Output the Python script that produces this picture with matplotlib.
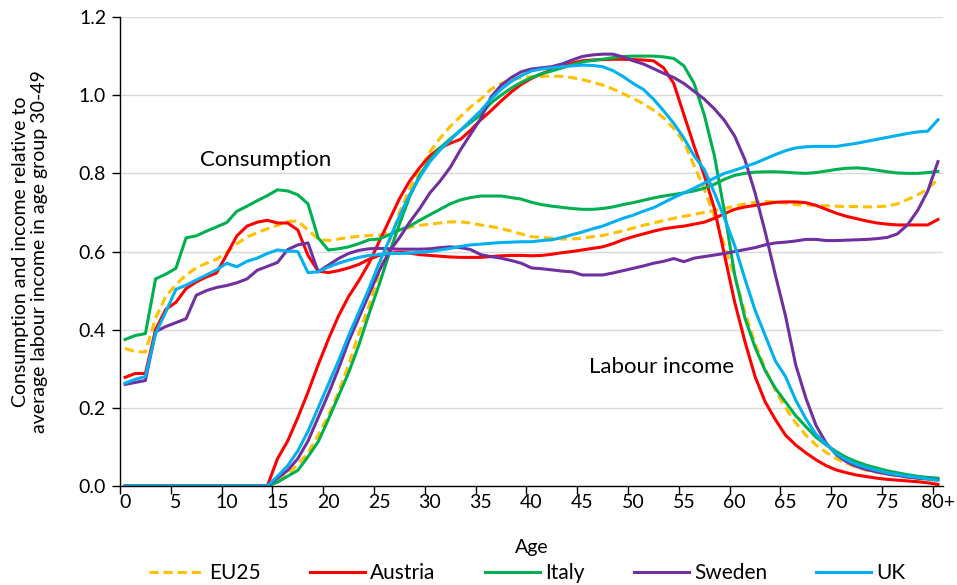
import matplotlib.pyplot as plt
import numpy as np

plt.rcParams['font.family'] = ['Lato', 'DejaVu Sans']

# age 0..80 (80 = 80+)
ages = np.arange(81)
tick_ages = np.arange(0, 81, 5)
tick_labels = [str(a) for a in tick_ages[:-1]] + ['80+']

# consumption profiles
eu25_cons = [0.352, 0.344, 0.343, 0.43, 0.485, 0.515, 0.54, 0.558, 0.57, 0.58,
             0.598, 0.62, 0.637, 0.648, 0.658, 0.667, 0.677, 0.678, 0.655, 0.632,
             0.628, 0.632, 0.636, 0.639, 0.641, 0.642, 0.648, 0.655, 0.662, 0.667,
             0.67, 0.673, 0.676, 0.676, 0.673, 0.668, 0.664, 0.659, 0.652, 0.645,
             0.638, 0.636, 0.634, 0.632, 0.632, 0.634, 0.638, 0.641, 0.647, 0.653,
             0.66, 0.667, 0.673, 0.679, 0.685, 0.69, 0.695, 0.7, 0.705, 0.71,
             0.716, 0.722, 0.726, 0.728, 0.727, 0.724, 0.72, 0.719, 0.718, 0.717,
             0.716, 0.715, 0.715, 0.714, 0.715, 0.716, 0.722, 0.733, 0.745, 0.76,
             0.785]
austria_cons = [0.278, 0.288, 0.288, 0.4, 0.452, 0.47, 0.505, 0.522, 0.535, 0.545,
                0.592, 0.64, 0.665, 0.675, 0.68, 0.673, 0.673, 0.655, 0.59, 0.55,
                0.546, 0.551, 0.558, 0.567, 0.58, 0.59, 0.596, 0.598, 0.596, 0.592,
                0.59, 0.588, 0.586, 0.585, 0.585, 0.585, 0.587, 0.589, 0.59, 0.59,
                0.589, 0.59, 0.593, 0.597, 0.6, 0.604, 0.608, 0.612, 0.62, 0.63,
                0.638, 0.645, 0.652, 0.658, 0.662, 0.665, 0.67, 0.675, 0.685, 0.697,
                0.708, 0.714, 0.718, 0.722, 0.726, 0.727, 0.727, 0.725, 0.718, 0.708,
                0.698, 0.69, 0.684, 0.678, 0.673, 0.67, 0.668, 0.668, 0.668, 0.668,
                0.682]
italy_cons = [0.375, 0.385, 0.39, 0.53, 0.542, 0.557, 0.635, 0.64, 0.652, 0.663,
              0.674, 0.703, 0.716, 0.73, 0.743, 0.758, 0.755, 0.745, 0.722, 0.635,
              0.604, 0.607, 0.612, 0.62, 0.63, 0.632, 0.643, 0.655, 0.665, 0.68,
              0.694, 0.708, 0.722, 0.732, 0.738, 0.742, 0.742, 0.742, 0.738, 0.734,
              0.726, 0.72, 0.716, 0.713, 0.71, 0.708, 0.708, 0.71, 0.714, 0.72,
              0.725, 0.731, 0.737, 0.742, 0.746, 0.75, 0.755, 0.762, 0.772, 0.785,
              0.795, 0.8, 0.803, 0.804, 0.804, 0.803, 0.801, 0.8, 0.802, 0.806,
              0.81, 0.813, 0.814, 0.812, 0.808, 0.804, 0.801, 0.8, 0.8, 0.802,
              0.805]
sweden_cons = [0.26, 0.265, 0.27, 0.395, 0.408, 0.418, 0.428, 0.488, 0.5, 0.508,
               0.513, 0.52, 0.53, 0.552, 0.562, 0.572, 0.605, 0.617, 0.622, 0.548,
               0.565, 0.582, 0.595, 0.603, 0.607, 0.608, 0.607, 0.606, 0.606, 0.606,
               0.607, 0.61, 0.612, 0.61, 0.605, 0.592, 0.587, 0.583, 0.577, 0.57,
               0.558, 0.556, 0.553, 0.55, 0.548, 0.54, 0.54, 0.54, 0.545, 0.551,
               0.557, 0.563, 0.57, 0.575, 0.582, 0.574, 0.583, 0.587, 0.591, 0.595,
               0.6, 0.605, 0.61, 0.617, 0.622, 0.624, 0.627, 0.631, 0.631, 0.628,
               0.628, 0.629, 0.63, 0.631, 0.633, 0.636, 0.645, 0.668, 0.705, 0.755,
               0.83]
uk_cons = [0.263, 0.273, 0.28, 0.39, 0.445, 0.503, 0.514, 0.527, 0.54, 0.553,
           0.57, 0.561, 0.575, 0.583, 0.595, 0.604, 0.601, 0.6, 0.546, 0.548,
           0.56, 0.57, 0.578, 0.585, 0.59, 0.592, 0.595, 0.595, 0.596, 0.598,
           0.6, 0.604, 0.608, 0.613, 0.617, 0.619, 0.621, 0.623, 0.624, 0.625,
           0.625, 0.628, 0.63, 0.636, 0.643, 0.65, 0.658, 0.665, 0.675, 0.685,
           0.693, 0.703, 0.712, 0.725, 0.738, 0.75, 0.762, 0.775, 0.788, 0.8,
           0.808, 0.817, 0.826, 0.837, 0.848, 0.858, 0.865, 0.868, 0.869, 0.869,
           0.869, 0.873, 0.877, 0.882, 0.887, 0.892, 0.897, 0.902, 0.906, 0.908,
           0.937]

# labour income profiles
eu25_lab = [0, 0, 0, 0, 0, 0, 0, 0, 0, 0,
            0, 0, 0, 0, 0, 0.01, 0.03, 0.055, 0.085, 0.13,
            0.18, 0.24, 0.31, 0.39, 0.46, 0.545, 0.625, 0.7, 0.76, 0.81,
            0.855, 0.89, 0.92, 0.945, 0.97, 0.99, 1.015, 1.03, 1.04, 1.045,
            1.047, 1.048, 1.049, 1.048, 1.045, 1.04, 1.033, 1.026, 1.016, 1.004,
            0.992, 0.978, 0.962, 0.942, 0.915, 0.88, 0.82, 0.76, 0.69, 0.615,
            0.535, 0.445, 0.365, 0.3, 0.245, 0.2, 0.162, 0.13, 0.105, 0.086,
            0.07, 0.058, 0.048, 0.04, 0.035, 0.03, 0.026, 0.022, 0.019, 0.016,
            0.014]
austria_lab = [0, 0, 0, 0, 0, 0, 0, 0, 0, 0,
               0, 0, 0, 0, 0, 0.07, 0.115, 0.175, 0.24, 0.31,
               0.375, 0.435, 0.485, 0.525, 0.57, 0.625, 0.68, 0.735, 0.78, 0.815,
               0.845, 0.865, 0.877, 0.887, 0.91, 0.937, 0.96, 0.985, 1.008, 1.028,
               1.043, 1.055, 1.065, 1.073, 1.082, 1.088, 1.09, 1.091, 1.092, 1.092,
               1.091, 1.09, 1.088, 1.07, 1.03, 0.95, 0.87, 0.795, 0.71, 0.59,
               0.47, 0.37, 0.28, 0.215, 0.17, 0.13, 0.105, 0.085, 0.067, 0.052,
               0.041, 0.034, 0.028, 0.024, 0.02, 0.017, 0.015, 0.013, 0.011, 0.008,
               0.004]
italy_lab = [0, 0, 0, 0, 0, 0, 0, 0, 0, 0,
             0, 0, 0, 0, 0, 0.01, 0.025, 0.04, 0.075, 0.113,
             0.17, 0.23, 0.29, 0.36, 0.44, 0.515, 0.595, 0.67, 0.74, 0.795,
             0.835, 0.865, 0.888, 0.91, 0.93, 0.95, 0.98, 1.0, 1.018, 1.033,
             1.045, 1.055, 1.062, 1.07, 1.078, 1.085, 1.089, 1.092, 1.096, 1.099,
             1.1, 1.1, 1.1, 1.098, 1.094, 1.075, 1.03, 0.95, 0.845, 0.7,
             0.54, 0.43, 0.355, 0.295, 0.25, 0.215, 0.18, 0.152, 0.125, 0.105,
             0.088, 0.073, 0.062, 0.053, 0.046, 0.039, 0.034, 0.029, 0.025, 0.022,
             0.02]
sweden_lab = [0, 0, 0, 0, 0, 0, 0, 0, 0, 0,
              0, 0, 0, 0, 0, 0.02, 0.04, 0.07, 0.115, 0.175,
              0.235, 0.3, 0.37, 0.43, 0.49, 0.55, 0.6, 0.635, 0.675, 0.71,
              0.75, 0.78, 0.815, 0.86, 0.9, 0.94, 0.995, 1.025, 1.045, 1.06,
              1.067, 1.07, 1.073, 1.08, 1.09, 1.099, 1.103, 1.105, 1.105, 1.098,
              1.088, 1.08, 1.068, 1.056, 1.045, 1.03, 1.01, 0.99, 0.965, 0.935,
              0.895, 0.835, 0.75, 0.65, 0.54, 0.435, 0.31, 0.225, 0.155, 0.11,
              0.08, 0.062, 0.05, 0.042, 0.036, 0.031, 0.027, 0.023, 0.02, 0.018,
              0.016]
uk_lab = [0, 0, 0, 0, 0, 0, 0, 0, 0, 0,
          0, 0, 0, 0, 0, 0.025, 0.052, 0.09, 0.14, 0.2,
          0.26, 0.32, 0.385, 0.445, 0.505, 0.57, 0.63, 0.69, 0.745, 0.79,
          0.83, 0.86, 0.885, 0.91, 0.935, 0.96, 0.99, 1.015, 1.035, 1.05,
          1.062, 1.067, 1.07, 1.073, 1.075, 1.077, 1.076, 1.073, 1.063, 1.048,
          1.03, 1.015, 0.99, 0.96, 0.928, 0.89, 0.845, 0.81, 0.75, 0.685,
          0.615, 0.53, 0.45, 0.385, 0.32, 0.28, 0.22, 0.172, 0.132, 0.108,
          0.082, 0.067, 0.055, 0.047, 0.04, 0.034, 0.029, 0.025, 0.022, 0.018,
          0.015]

countries = ['EU25', 'Austria', 'Italy', 'Sweden', 'UK']
cons = [eu25_cons, austria_cons, italy_cons, sweden_cons, uk_cons]
labour = [eu25_lab, austria_lab, italy_lab, sweden_lab, uk_lab]
colors = ['#FFC000', '#FF0000', '#00B050', '#7030A0', '#00B0F0']
styles = [(0, (3, 1.6)), '-', '-', '-', '-']

fig = plt.figure(figsize=(9.57, 5.85), dpi=100)
ax = fig.add_axes([0.1254, 0.1692, 0.8600, 0.8017])

handles = []
for name, c, l, col, ls in zip(countries, cons, labour, colors, styles):
    h, = ax.plot(ages, c, color=col, linestyle=ls, linewidth=2.2, label=name)
    ax.plot(ages, l, color=col, linestyle=ls, linewidth=2.2)
    handles.append(h)

ax.set_xlim(-0.5, 80.5)
ax.set_ylim(0, 1.2)
ax.set_yticks(np.arange(0, 1.21, 0.2))
ax.set_yticklabels(['%.1f' % v for v in np.arange(0, 1.21, 0.2)])
ax.set_xticks(tick_ages)
ax.set_xticklabels(tick_labels)
ax.set_xticks(np.arange(-0.5, 80, 5), minor=True)
ax.tick_params(axis='x', which='major', length=0, pad=6, labelsize=14)
ax.tick_params(axis='x', which='minor', length=6, width=1, direction='out')
ax.tick_params(axis='y', length=6, width=1, direction='out', pad=4, labelsize=14)

ax.grid(axis='y', color='#D9D9D9', linewidth=1)
ax.set_axisbelow(True)
for s in ['top', 'right']:
    ax.spines[s].set_visible(False)
for s in ['left', 'bottom']:
    ax.spines[s].set_color('black')
    ax.spines[s].set_linewidth(1)

ax.text(13.8, 0.834, 'Consumption', fontsize=16, ha='center', va='center')
ax.text(52.8, 0.305, 'Labour income', fontsize=16, ha='center', va='center')

fig.text(531.5 / 957, 1 - 548 / 585, 'Age', fontsize=14, ha='center', va='center')
fig.text(30 / 957, 0.57, 'Consumption and income relative to\naverage labour income in age group 30-49',
         fontsize=14, rotation=90, ha='center', va='center', multialignment='center',
         linespacing=1.1)

fig.legend(handles, countries, loc='center', bbox_to_anchor=(0.551, 0.0205), ncol=5,
           frameon=False, fontsize=15, handlelength=2.65, handletextpad=0.25,
           columnspacing=2.35, borderpad=0.1)

fig.savefig('out.png', dpi=100)
